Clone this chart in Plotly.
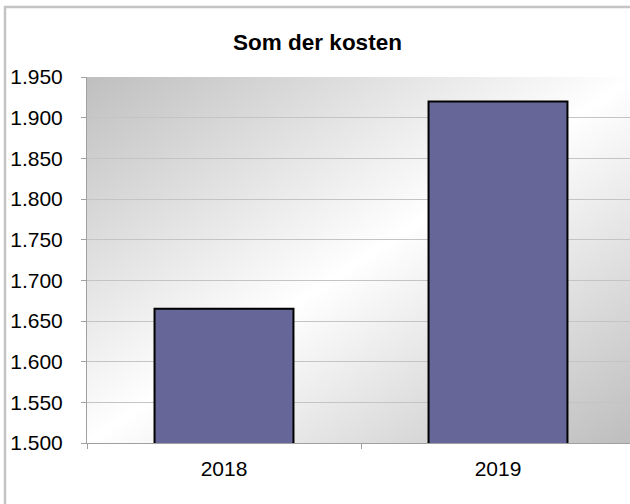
import plotly.graph_objects as go

years = ["2018", "2019"]
kosten = [1665, 1920]
y_ticks = [1500, 1550, 1600, 1650, 1700, 1750, 1800, 1850, 1900, 1950]

svg = (
    "data:image/svg+xml;utf8,"
    "<svg xmlns='http://www.w3.org/2000/svg' width='100' height='100' viewBox='0 0 100 100' preserveAspectRatio='none'>"
    "<defs><linearGradient id='g' x1='0' y1='0' x2='1' y2='1'>"
    "<stop offset='0' stop-color='%23bfbfbf'/>"
    "<stop offset='0.5' stop-color='%23ffffff'/>"
    "<stop offset='1' stop-color='%23bdbdbd'/>"
    "</linearGradient></defs>"
    "<rect x='0' y='0' width='100' height='100' fill='url(%23g)'/></svg>"
)

fig = go.Figure()
fig.add_trace(go.Bar(
    x=years, y=kosten,
    width=0.507,
    marker=dict(color="#666699", line=dict(color="#000000", width=2)),
    hoverinfo="skip",
))

fig.update_layout(
    width=630, height=504,
    margin=dict(l=87, r=0, t=77, b=61),
    paper_bgcolor="#ffffff",
    plot_bgcolor="rgba(0,0,0,0)",
    separators=",.",
    showlegend=False,
    font=dict(family="Liberation Sans, Arial, sans-serif", color="#000000", size=21),
    title=dict(
        text="<b>Som der kosten</b>",
        x=317.5 / 630, xref="container", xanchor="center",
        y=1 - 42 / 504, yref="container", yanchor="middle",
        font=dict(size=22.5, color="#000000"),
    ),
    images=[dict(
        source=svg, xref="paper", yref="paper",
        x=0, y=1, sizex=548 / 543, sizey=1,
        xanchor="left", yanchor="top", sizing="stretch", layer="below",
    )],
    shapes=[dict(
        type="rect", xref="paper", yref="paper",
        x0=(5 - 87) / 543, x1=1.2, y0=-0.4, y1=(443 - 7) / 366,
        line=dict(color="#c4c4c4", width=2.5), fillcolor="rgba(0,0,0,0)",
        layer="below",
    )],
    xaxis=dict(
        type="category",
        range=[-0.5, 1.5 - 5 / 274],
        showline=True, linecolor="#a0a0a0", linewidth=1,
        ticks="outside", ticklen=5, tickcolor="#a0a0a0", tickson="boundaries",
        showgrid=False, zeroline=False,
        tickfont=dict(size=21),
        ticklabelstandoff=7,
    ),
    yaxis=dict(
        range=[1500, 1950],
        tickvals=y_ticks, tickformat=",d",
        showline=True, linecolor="#a0a0a0", linewidth=1,
        ticks="outside", ticklen=5, tickcolor="#a0a0a0",
        showgrid=True, gridcolor="#c4c4c4", gridwidth=1,
        zeroline=False,
        tickfont=dict(size=21),
        ticklabelstandoff=14,
    ),
)

fig.write_html(
    "out.html",
    config={"displayModeBar": False},
    post_script="document.body.style.margin='0';document.body.style.overflow='hidden';",
)
